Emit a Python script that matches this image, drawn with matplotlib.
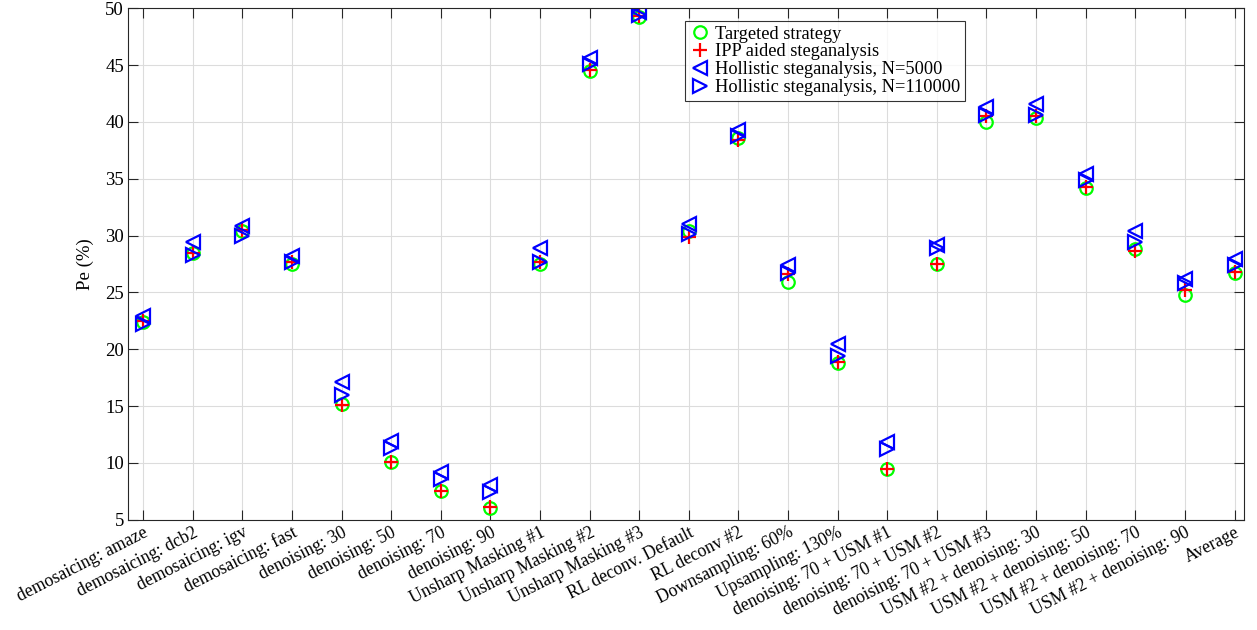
import numpy as np
import matplotlib
matplotlib.use("Agg")
from matplotlib import pyplot as plt

# Categories (x tick labels)
categories = [
    "demosaicing: amaze", "demosaicing: dcb2", "demosaicing: igv", "demosaicing: fast",
    "denoising: 30", "denoising: 50", "denoising: 70", "denoising: 90",
    "Unsharp Masking #1", "Unsharp Masking #2", "Unsharp Masking #3",
    "RL deconv. Default", "RL deconv #2", "Downsampling: 60%", "Upsampling: 130%",
    "denoising: 70 + USM #1", "denoising: 70 + USM #2", "denoising: 70 + USM #3",
    "USM #2 + denoising: 30", "USM #2 + denoising: 50", "USM #2 + denoising: 70",
    "USM #2 + denoising: 90", "Average",
]

# Pe (%) per series
targeted = [22.4, 28.5, 30.4, 27.5, 15.2, 10.1, 7.5, 6.0, 27.5, 44.5, 49.2,
            30.4, 38.6, 25.9, 18.8, 9.5, 27.5, 40.0, 40.3, 34.2, 28.8, 24.8, 26.7]
ipp = [22.5, 28.5, 30.5, 27.7, 15.1, 10.1, 7.5, 6.1, 27.7, 44.6, 49.3,
       29.9, 38.4, 26.6, 18.9, 9.5, 27.5, 40.5, 40.5, 34.3, 28.6, 25.2, 26.8]
holl_5000 = [22.9, 29.4, 30.8, 28.2, 17.1, 11.9, 9.2, 8.1, 28.9, 45.6, 49.7,
             31.0, 39.3, 27.4, 20.5, 11.8, 29.2, 41.3, 41.6, 35.4, 30.4, 26.2, 27.9]
holl_110000 = [22.2, 28.3, 30.0, 27.7, 16.0, 11.3, 8.6, 7.4, 27.7, 45.1, 49.4,
               30.1, 38.8, 26.7, 19.4, 11.2, 28.9, 40.6, 40.6, 34.9, 29.4, 25.8, 27.4]

def main() -> None:
    plt.rcParams["font.family"] = ["Liberation Serif", "DejaVu Serif"]

    x = np.arange(1, len(categories) + 1)

    fig = plt.figure(figsize=(12.57, 6.30), dpi=100)
    ax = fig.add_axes([0.102, 0.175, 0.888, 0.812])

    ax.plot(x, targeted, linestyle="none", marker="o", markersize=9,
            markerfacecolor="none", markeredgecolor=(0, 1, 0), markeredgewidth=1.6,
            label="Targeted strategy")
    ax.plot(x, ipp, linestyle="none", marker="+", markersize=10,
            color="red", markeredgewidth=1.6, label="IPP aided steganalysis")
    ax.plot(x, holl_5000, linestyle="none", marker="<", markersize=10.5,
            markerfacecolor="none", markeredgecolor="blue", markeredgewidth=1.6,
            label="Hollistic steganalysis, N=5000")
    ax.plot(x, holl_110000, linestyle="none", marker=">", markersize=10.5,
            markerfacecolor="none", markeredgecolor="blue", markeredgewidth=1.6,
            label="Hollistic steganalysis, N=110000")

    ax.set_xlim(0.7, 23.2)
    ax.set_ylim(5, 50)
    ax.set_yticks(np.arange(5, 51, 5))
    ax.set_xticks(x)
    ax.set_xticklabels(categories, rotation=27, ha="right", rotation_mode="anchor",
                       fontsize=12.8)
    ax.tick_params(axis="y", labelsize=13.5, pad=3)
    ax.tick_params(axis="x", pad=3)
    ax.tick_params(direction="in", length=7, top=True, right=True, width=0.8,
                   color="#262626")
    ax.set_ylabel("Pe (%)", fontsize=13.5, labelpad=8)

    ax.grid(True, color="#dcdcdc", linewidth=0.8)
    ax.set_axisbelow(True)
    for s in ax.spines.values():
        s.set_color("#262626")
        s.set_linewidth(0.8)

    leg = ax.legend(loc="upper left", bbox_to_anchor=(0.499, 0.975), fontsize=13.2,
                    frameon=True, fancybox=False, edgecolor="black",
                    handletextpad=0.3, handlelength=1.1, borderpad=0.25,
                    labelspacing=0.05, borderaxespad=0)
    leg.get_frame().set_linewidth(0.8)

    fig.savefig("out.png", dpi=100)

if __name__ == "__main__":
    main()
